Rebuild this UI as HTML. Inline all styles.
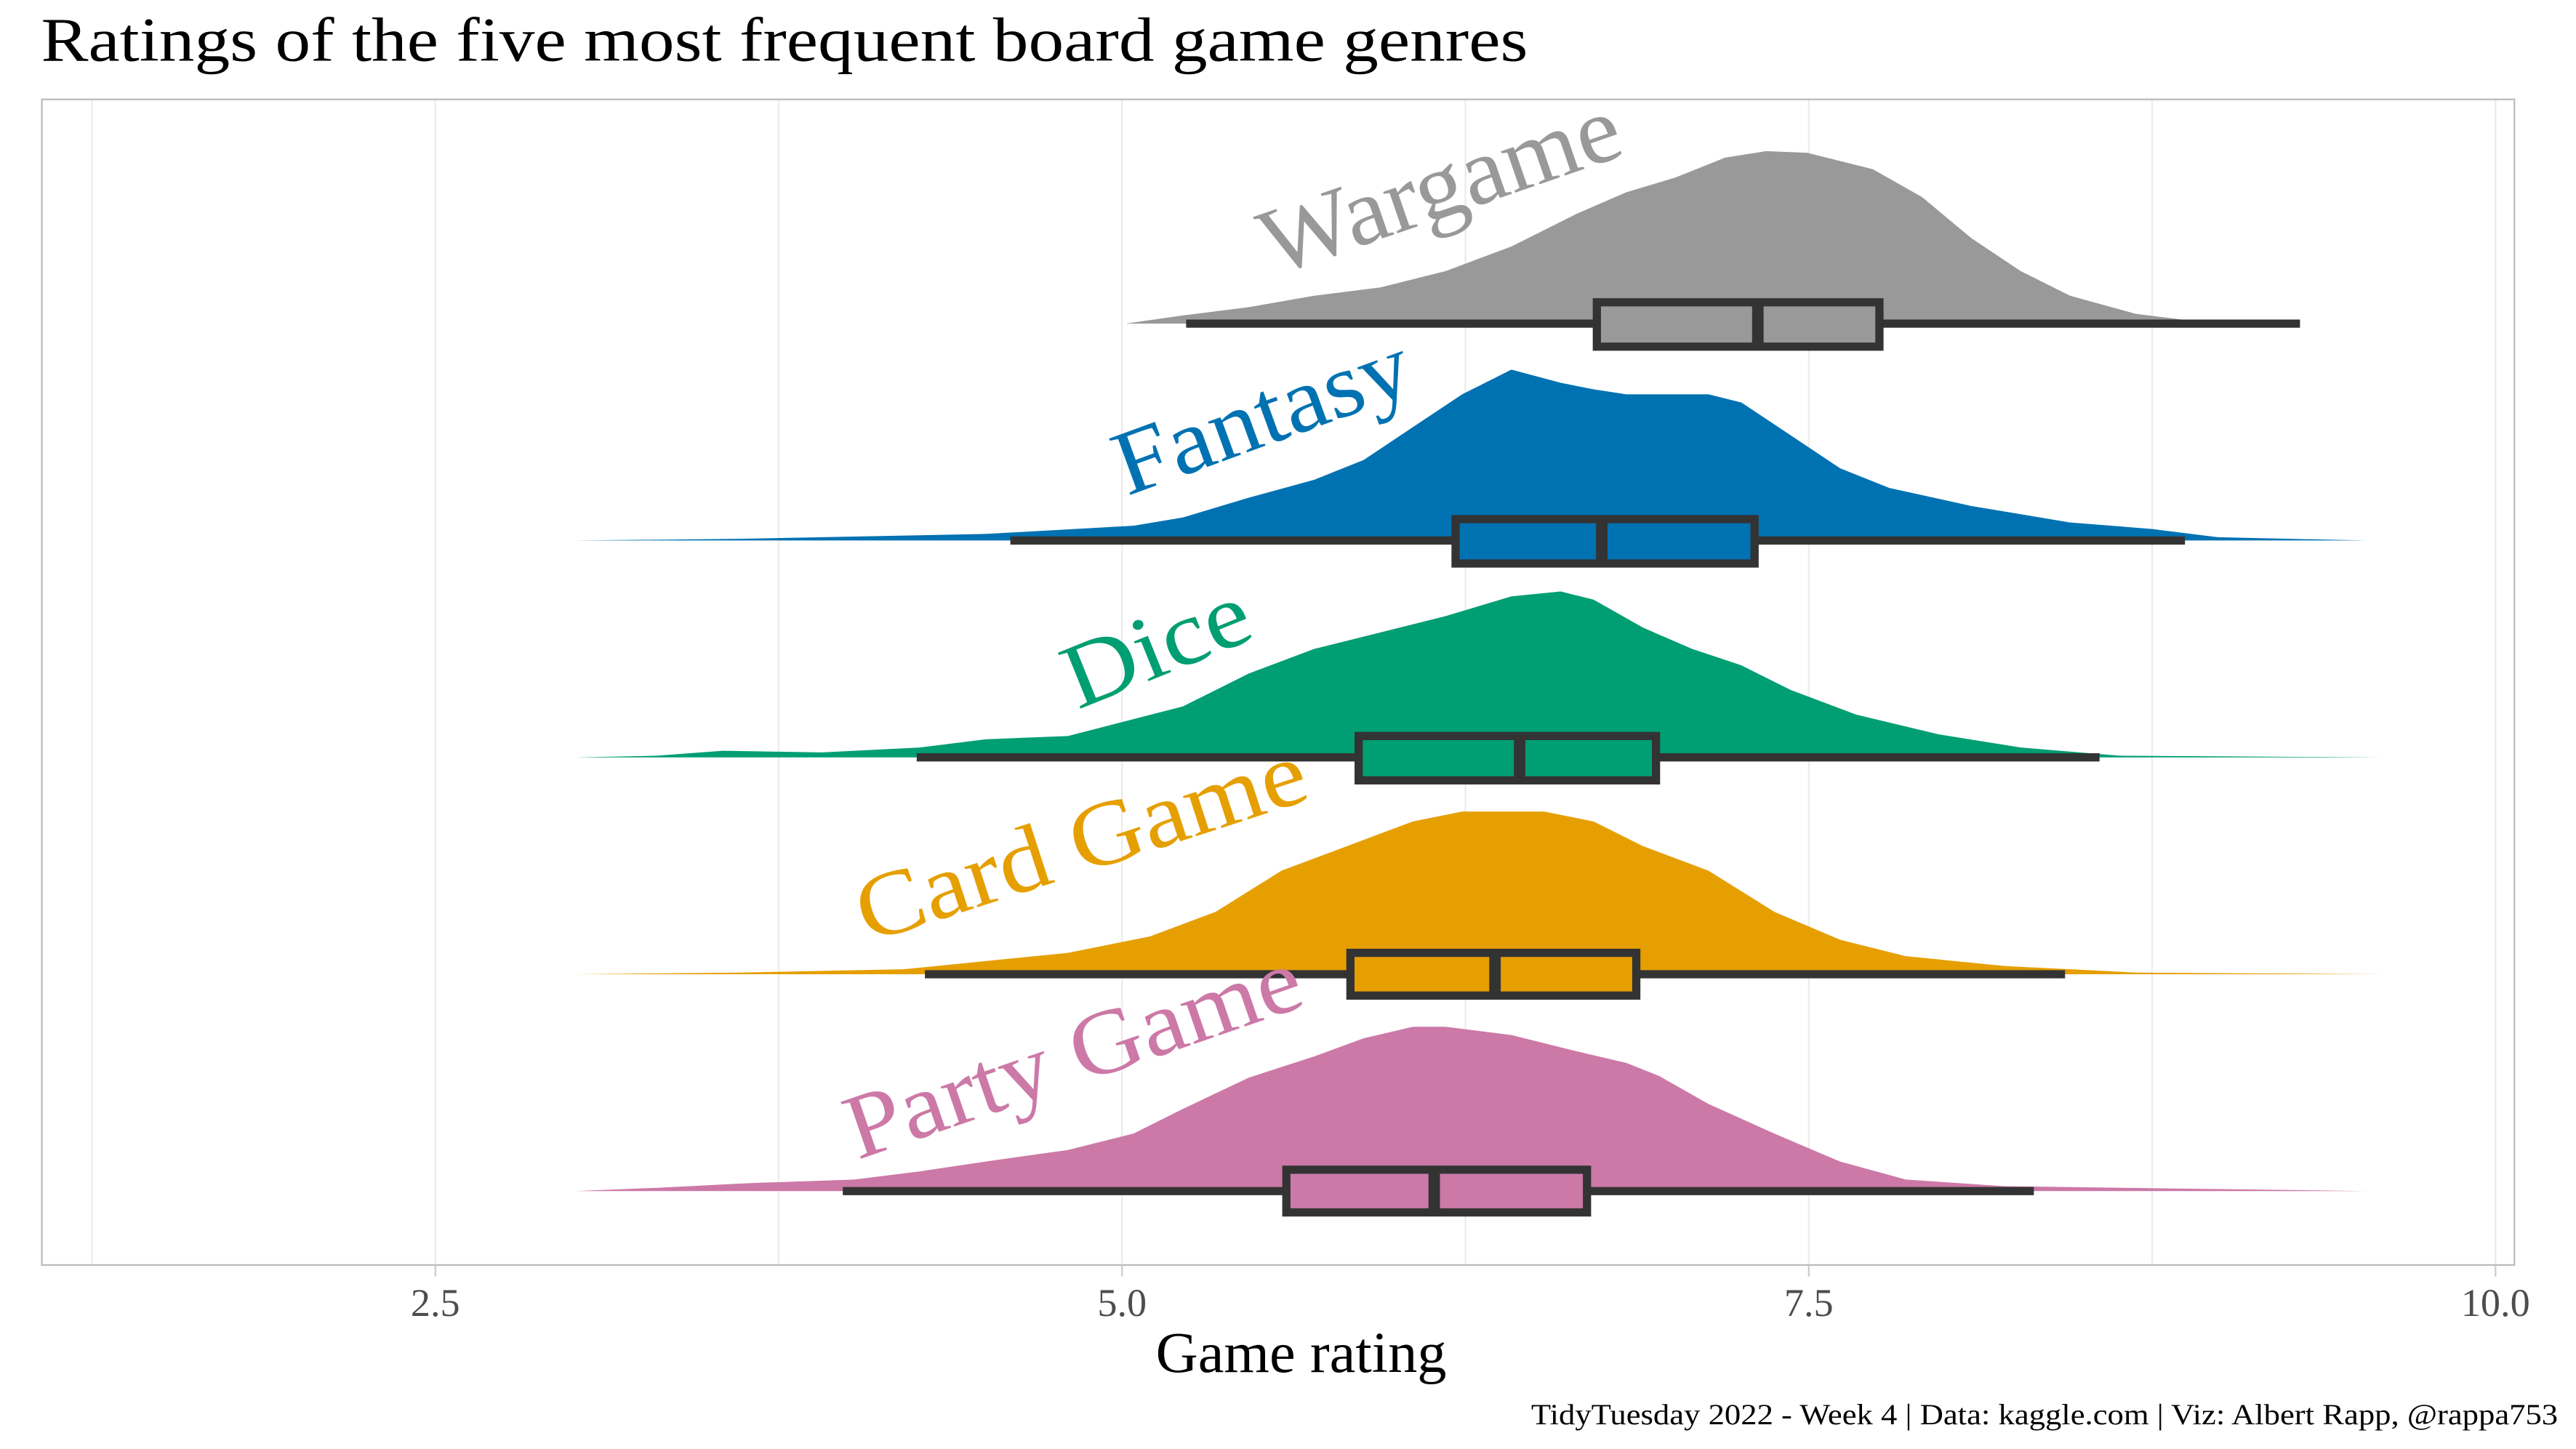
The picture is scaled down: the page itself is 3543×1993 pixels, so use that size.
<!DOCTYPE html>
<html><head><meta charset="utf-8"><style>html,body{margin:0;padding:0;background:#fff}svg{display:block}</style></head>
<body>
<svg width="3543" height="1993" viewBox="0 0 1568 882" preserveAspectRatio="none" xmlns="http://www.w3.org/2000/svg" font-family="'Liberation Serif', serif">
<rect width="1568" height="882" fill="#fff"/>
<g stroke="#ebebeb" stroke-width="1">
<line x1="56" y1="60" x2="56" y2="770"/><line x1="474" y1="60" x2="474" y2="770"/><line x1="892" y1="60" x2="892" y2="770"/><line x1="1310" y1="60" x2="1310" y2="770"/>
<line x1="265" y1="60" x2="265" y2="770"/><line x1="683" y1="60" x2="683" y2="770"/><line x1="1101" y1="60" x2="1101" y2="770"/><line x1="1519" y1="60" x2="1519" y2="770"/>
</g>
<rect x="25.5" y="60.5" width="1505" height="709.5" fill="none" stroke="#bbb" stroke-width="1"/>
<g stroke="#ccc" stroke-width="1"><line x1="265" y1="770" x2="265" y2="777"/><line x1="683" y1="770" x2="683" y2="777"/><line x1="1101" y1="770" x2="1101" y2="777"/><line x1="1519" y1="770" x2="1519" y2="777"/></g>

<path fill="#999999" d="M685,197 L720,192 L760,187 L800,180 L840,175 L880,165 L920,150 L960,130 L990,117 L1020,108 L1050,96 L1075,92 L1100,93 L1140,103 L1170,120 L1200,145 L1230,165 L1260,180 L1300,191 L1340,196 L1400,197 L1470,197 Z"/>
<g stroke="#333" stroke-width="5" fill="none"><line x1="722" y1="197" x2="972" y2="197"/><line x1="1144" y1="197" x2="1400" y2="197"/></g>
<rect x="972" y="184" width="172" height="27" fill="#999999" stroke="#333" stroke-width="5"/><line x1="1070" y1="184" x2="1070" y2="211" stroke="#333" stroke-width="7"/>

<path fill="#0072B2" d="M350,329 L450,328 L600,325 L690,320 L720,315 L760,303 L800,292 L830,280 L860,260 L890,240 L920,225 L950,233 L970,237 L990,240 L1040,240 L1060,245 L1090,265 L1120,285 L1150,297 L1200,308 L1260,318 L1310,322 L1350,327 L1440,329 Z"/>
<g stroke="#333" stroke-width="5"><line x1="615" y1="329" x2="886" y2="329"/><line x1="1068" y1="329" x2="1330" y2="329"/></g>
<rect x="886" y="316" width="182" height="27" fill="#0072B2" stroke="#333" stroke-width="5"/><line x1="975" y1="316" x2="975" y2="343" stroke="#333" stroke-width="7"/>

<path fill="#009E73" d="M350,461 L400,460 L440,457 L500,458 L560,455 L600,450 L650,448 L720,430 L760,410 L800,395 L840,385 L880,375 L920,363 L950,360 L970,365 L1000,382 L1030,395 L1060,405 L1090,420 L1130,435 L1180,447 L1230,455 L1290,460 L1450,461 Z"/>
<g stroke="#333" stroke-width="5"><line x1="558" y1="461" x2="827" y2="461"/><line x1="1008" y1="461" x2="1278" y2="461"/></g>
<rect x="827" y="448" width="181" height="27" fill="#009E73" stroke="#333" stroke-width="5"/><line x1="925" y1="448" x2="925" y2="475" stroke="#333" stroke-width="7"/>

<path fill="#E69F00" d="M350,593 L450,592 L550,590 L600,585 L650,580 L700,570 L740,555 L780,530 L820,515 L860,500 L890,494 L940,494 L970,500 L1000,515 L1040,530 L1080,555 L1120,572 L1160,582 L1220,588 L1300,592 L1450,593 Z"/>
<g stroke="#333" stroke-width="5"><line x1="563" y1="593" x2="822" y2="593"/><line x1="996" y1="593" x2="1257" y2="593"/></g>
<rect x="822" y="580" width="174" height="26" fill="#E69F00" stroke="#333" stroke-width="5"/><line x1="910" y1="580" x2="910" y2="606" stroke="#333" stroke-width="7"/>

<path fill="#CC79A7" d="M350,725 L400,723 L460,720 L520,718 L560,713 L600,707 L650,700 L690,690 L720,675 L760,656 L800,643 L830,632 L860,625 L880,625 L920,630 L960,640 L990,647 L1010,655 L1040,672 L1080,690 L1120,707 L1160,718 L1220,722 L1440,725 Z"/>
<g stroke="#333" stroke-width="5"><line x1="513" y1="725" x2="783" y2="725"/><line x1="966" y1="725" x2="1238" y2="725"/></g>
<rect x="783" y="712" width="183" height="26" fill="#CC79A7" stroke="#333" stroke-width="5"/><line x1="873" y1="712" x2="873" y2="738" stroke="#333" stroke-width="7"/>

<text transform="translate(775,168) rotate(-19)" font-size="58" fill="#999999" textLength="228" lengthAdjust="spacingAndGlyphs">Wargame</text>
<text transform="translate(686,302) rotate(-20)" font-size="56" fill="#0072B2" textLength="188" lengthAdjust="spacingAndGlyphs">Fantasy</text>
<text transform="translate(656,432) rotate(-22)" font-size="56" fill="#009E73" textLength="118" lengthAdjust="spacingAndGlyphs">Dice</text>
<text transform="translate(528,574) rotate(-18)" font-size="56" fill="#E69F00" textLength="285" lengthAdjust="spacingAndGlyphs">Card Game</text>
<text transform="translate(522,706) rotate(-19)" font-size="56" fill="#CC79A7" textLength="290" lengthAdjust="spacingAndGlyphs">Party Game</text>

<text x="25" y="37" font-size="38" fill="#000" textLength="905" lengthAdjust="spacingAndGlyphs">Ratings of the five most frequent board game genres</text>
<g font-size="24" fill="#4d4d4d" text-anchor="middle"><text x="265" y="801">2.5</text><text x="683" y="801">5.0</text><text x="1101" y="801">7.5</text><text x="1519" y="801">10.0</text></g>
<text x="792" y="835" font-size="35" text-anchor="middle" fill="#000" textLength="177" lengthAdjust="spacingAndGlyphs">Game rating</text>
<text x="1557" y="867" font-size="18" text-anchor="end" fill="#000" textLength="625" lengthAdjust="spacingAndGlyphs">TidyTuesday 2022 - Week 4 | Data: kaggle.com | Viz: Albert Rapp, @rappa753</text>
</svg>
</body></html>
